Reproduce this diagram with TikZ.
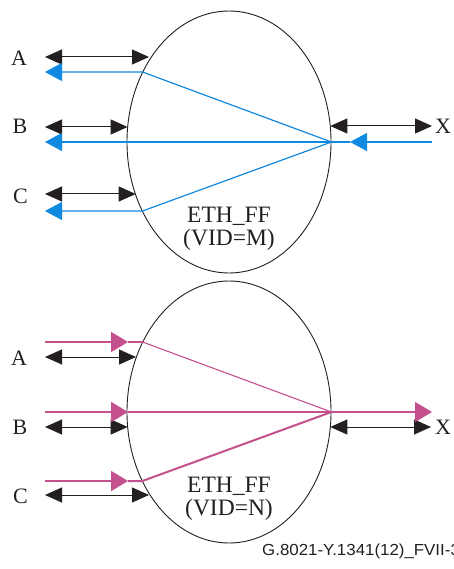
\documentclass[tikz,border=0pt]{standalone}
\usepackage{fontspec}
\setmainfont{Liberation Serif}
\newfontfamily\footfont{Liberation Sans}
\usetikzlibrary{arrows.meta,shapes.geometric}

\definecolor{bluL}{RGB}{16,137,224}
\definecolor{magL}{RGB}{197,80,142}
\definecolor{inkL}{RGB}{35,31,32}

\begin{document}
\begin{tikzpicture}[x=1pt,y=-1pt,
  ellip/.style={draw=inkL, line width=0.9pt, ellipse, minimum width=204pt, minimum height=262pt, inner sep=0pt},
  dbl/.style={draw=inkL, line width=1pt, {Triangle[length=17pt,width=15pt]}-{Triangle[length=17pt,width=15pt]}},
  bl/.style={draw=bluL, line width=1.2pt},
  blarr/.style={bl, -{Triangle[length=17pt,width=18pt]}},
  magthick/.style={draw=magL, line width=2pt},
  magthin/.style={draw=magL, line width=1.1pt},
  magarr/.style={magthick, -{Triangle[length=17pt,width=20pt]}},
  lbl/.style={font=\fontsize{22}{24}\selectfont, text=inkL, inner sep=0pt},
  ethtxt/.style={font=\fontsize{23.5}{24}\selectfont, text=inkL, inner sep=0pt, anchor=base}
]
\useasboundingbox (0,0) rectangle (453,569);

% ===== top diagram =====
\node[ellip] (e1) at (229,142) {};
\node[ethtxt] (eth1) at (229,222.7) {ETH\_FF};
\node[ethtxt] (vid1) at (229,245) {(VID=M)};

\node[lbl] (lA1) at (19,57.8) {A};
\node[lbl] (lB1) at (20,126.7) {B};
\node[lbl] (lC1) at (20.5,196.7) {C};
\node[lbl] (lX1) at (443,126) {X};

\coordinate (tA0) at (45,57);   \coordinate (tA1) at (149,57);
\coordinate (tB0) at (45,127);  \coordinate (tB1) at (127.6,127);
\coordinate (tC0) at (45,194);  \coordinate (tC1) at (135.7,194);
\coordinate (tX0) at (330.3,126); \coordinate (tX1) at (432,126);
\draw[dbl] (tA0) -- (tA1);
\draw[dbl] (tB0) -- (tB1);
\draw[dbl] (tC0) -- (tC1);
\draw[dbl] (tX0) -- (tX1);

\coordinate (bA1) at (142.5,72); \coordinate (bA0) at (45,72);
\coordinate (bB0) at (45,142);
\coordinate (bC1) at (142.5,211);  \coordinate (bC0) at (45,211);
\coordinate (bX0) at (432,142);  \coordinate (bX1) at (350,142);
\draw[blarr] (e1.east) -- (bA1) -- (bA0);
\draw[blarr] (e1.east) -- (bB0);
\draw[blarr] (e1.east) -- (bC1) -- (bC0);
\draw[blarr] (bX0) -- (bX1);
\draw[bl] (bX1) -- (e1.east);

% ===== bottom diagram =====
\node[ellip] (e2) at (229,412) {};
\node[ethtxt] (eth2) at (229,492.7) {ETH\_FF};
\node[ethtxt] (vid2) at (229,515) {(VID=N)};

\node[lbl] (lA2) at (19,358.5) {A};
\node[lbl] (lB2) at (20,427) {B};
\node[lbl] (lC2) at (20.5,496.7) {C};
\node[lbl] (lX2) at (443,427) {X};

\coordinate (uA0) at (45,357);   \coordinate (uA1) at (136,357);
\coordinate (uB0) at (45,427);   \coordinate (uB1) at (127.7,427);
\coordinate (uC0) at (45,495);     \coordinate (uC1) at (149,495);
\coordinate (uX0) at (330.3,427); \coordinate (uX1) at (431,427);
\draw[dbl] (uA0) -- (uA1);
\draw[dbl] (uB0) -- (uB1);
\draw[dbl] (uC0) -- (uC1);
\draw[dbl] (uX0) -- (uX1);

\coordinate (mA0) at (45,342); \coordinate (mA1) at (128,342); \coordinate (mA2) at (142.5,342);
\coordinate (mB0) at (45,412); \coordinate (mB1) at (128,412);
\coordinate (mC0) at (45,481); \coordinate (mC1) at (128,481); \coordinate (mC2) at (142.4,481);
\coordinate (mX1) at (432,412);
\draw[magarr] (mA0) -- (mA1);
\draw[magthick] (mA1) -- (mA2);
\draw[magthin] (mA2) -- (e2.east);
\draw[magarr] (mB0) -- (mB1);
\draw[magthick] (mB1) -- (e2.east);
\draw[magarr] (mC0) -- (mC1);
\draw[magthick] (mC1) -- (mC2) -- (e2.east);
\draw[magthin, -{Triangle[length=17pt,width=20pt]}] (e2.east) -- (mX1);

% footer
\node[font=\footfont\fontsize{16}{18}\selectfont, text=inkL, anchor=base west, inner sep=0pt] (foot) at (262,555) {\scalebox{1.055}[1]{G.8021-Y.1341(12)\_FVII-3}};
\end{tikzpicture}
\end{document}
